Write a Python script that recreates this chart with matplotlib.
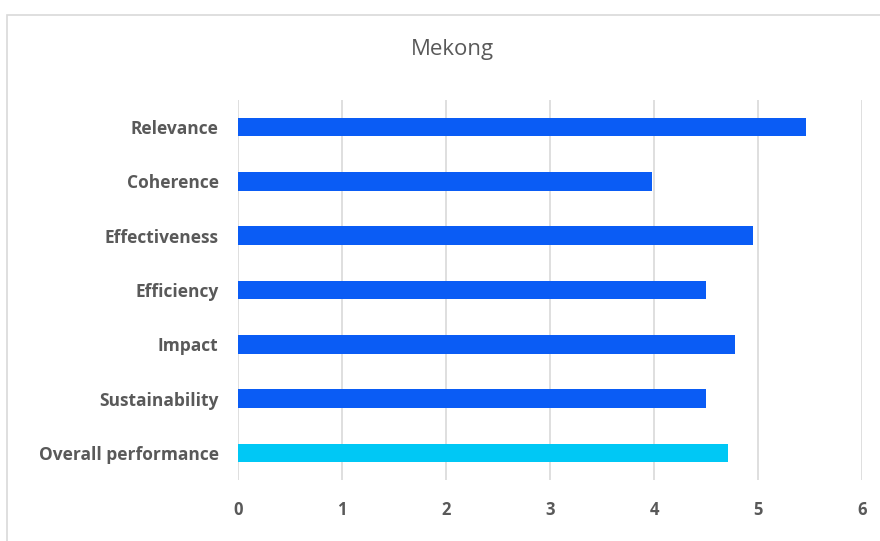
import matplotlib
matplotlib.use("Agg")
import matplotlib.pyplot as plt
from matplotlib.patches import Rectangle

categories = ["Relevance", "Coherence", "Effectiveness", "Efficiency", "Impact",
              "Sustainability", "Overall performance"]
values = [5.46, 3.98, 4.95, 4.5, 4.78, 4.5, 4.71]
colors = ["#0A5CF5"] * 6 + ["#00C8F5"]
xticks = [0, 1, 2, 3, 4, 5, 6]

plt.rcParams['font.family'] = ['Open Sans', 'DejaVu Sans']

fig = plt.figure(figsize=(8.8, 5.41), dpi=100)
fig.patch.set_facecolor("white")
fig.patches.append(Rectangle((7/880, -0.1), 1.2, 1 - 15/541 + 0.1,
                             transform=fig.transFigure, fill=False,
                             edgecolor="#D9D9D9", linewidth=1.2))

ax = fig.add_axes([238/880, 1 - 480/541, 624/880, 380/541])
y = list(range(len(categories)))
ax.barh(y, values, height=0.34, color=colors, zorder=3)
ax.set_ylim(len(categories) - 0.5, -0.5)
ax.set_xlim(0, 6)
ax.set_xticks(xticks)
ax.set_xticklabels([str(t) for t in xticks])
ax.set_yticks(y)
ax.set_yticklabels(categories)
for s in ax.spines.values():
    s.set_visible(False)
ax.grid(axis='x', color="#D9D9D9", linewidth=1.2, zorder=0)
ax.tick_params(axis='both', length=0, colors="#595959")
ax.tick_params(axis='y', labelsize=12.5, pad=14)
ax.tick_params(axis='x', labelsize=12, pad=15)
for lbl in ax.get_yticklabels() + ax.get_xticklabels():
    lbl.set_fontweight('bold')
    lbl.set_color("#595959")

fig.text(452/880, 1 - 49/541, "Mekong", ha='center', va='center',
         fontsize=16, color="#595959")

fig.savefig("out.png", dpi=100)
